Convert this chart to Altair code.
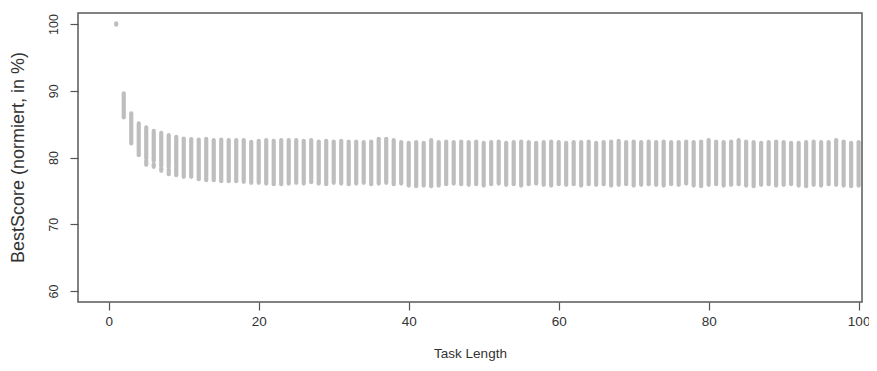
import altair as alt
import pandas as pd

# Task lengths 1..100
task_length = list(range(1, 101))

# Upper end of each bar (BestScore, normalised, %)
bar_top = [
    100.1, 89.6, 86.6, 85.1, 84.5, 84.0, 83.7, 83.35, 83.1, 82.85,
    82.75, 82.7, 82.8, 82.6, 82.7, 82.6, 82.6, 82.6, 82.35, 82.5,
    82.6, 82.5, 82.6, 82.6, 82.6, 82.5, 82.6, 82.4, 82.5, 82.4,
    82.5, 82.4, 82.4, 82.3, 82.4, 82.8, 82.8, 82.6, 82.3, 82.2,
    82.3, 82.2, 82.6, 82.3, 82.4, 82.3, 82.4, 82.3, 82.4, 82.2,
    82.3, 82.4, 82.2, 82.3, 82.4, 82.3, 82.2, 82.3, 82.4, 82.3,
    82.2, 82.3, 82.3, 82.4, 82.2, 82.3, 82.4, 82.5, 82.3, 82.4,
    82.3, 82.4, 82.3, 82.4, 82.3, 82.3, 82.4, 82.3, 82.4, 82.6,
    82.4, 82.3, 82.4, 82.6, 82.4, 82.3, 82.2, 82.3, 82.4, 82.3,
    82.2, 82.2, 82.3, 82.4, 82.3, 82.3, 82.6, 82.4, 82.2, 82.3,
]

# Lower end of each bar
bar_bottom = [
    99.9, 86.0, 82.1, 80.35, 78.9, 78.6, 78.0, 77.5, 77.35, 77.1,
    77.1, 76.75, 76.6, 76.6, 76.45, 76.45, 76.45, 76.35, 76.2, 76.2,
    76.1, 76.0, 76.0, 76.1, 76.2, 76.1, 76.3, 76.1, 76.0, 76.2,
    76.1, 76.0, 76.1, 76.2, 76.0, 76.1, 76.2, 76.0, 76.1, 75.8,
    75.7, 75.8, 75.7, 75.8, 76.0, 76.1, 76.0, 75.9, 76.0, 75.8,
    76.0, 76.1, 75.9, 76.0, 75.8, 76.0, 76.1, 75.9, 75.8, 76.0,
    75.9, 76.0, 75.8, 76.0, 75.9, 76.0, 75.8, 75.9, 76.0, 75.8,
    75.9, 76.0, 75.9, 75.8, 76.0, 75.9, 76.1, 75.8, 75.7, 75.9,
    76.0, 75.8, 75.9, 76.0, 75.8, 75.7, 75.9, 76.0, 75.8, 75.9,
    76.0, 75.8, 75.7, 75.9, 75.8, 76.0, 75.9, 75.8, 75.7, 75.8,
]

# Visible gaps near the lower end of a few early bars
gap_task = [5, 6, 7, 8]
gap_low = [79.5, 79.0, 78.4, 78.2]
gap_high = [79.9, 79.5, 78.8, 78.6]

rows = []
gaps = {t: (lo, hi) for t, lo, hi in zip(gap_task, gap_low, gap_high)}
for t, top, bot in zip(task_length, bar_top, bar_bottom):
    if t in gaps:
        lo, hi = gaps[t]
        rows.append({"task": t, "lo": hi, "hi": top})
        rows.append({"task": t, "lo": bot, "hi": lo})
    else:
        rows.append({"task": t, "lo": bot, "hi": top})
df = pd.DataFrame(rows)

FONT = "Liberation Sans"
TXT = "#333333"
AX = "#555555"

x_axis = alt.Axis(
    values=[0, 20, 40, 60, 80, 100], title="Task Length", grid=False, domain=False,
    tickColor=AX, tickSize=8, tickWidth=1.2, labelFont=FONT, labelFontSize=13.5,
    labelColor=TXT, labelPadding=4, titleFont=FONT, titleFontSize=13.5,
    titleFontWeight="normal", titleColor=TXT, titleY=55, titleBaseline="alphabetic",
)
y_axis = alt.Axis(
    values=[60, 70, 80, 90, 100], title="BestScore (normiert, in %)", grid=False,
    domain=False, tickColor=AX, tickSize=8, tickWidth=1.2, labelFont=FONT,
    labelFontSize=12.5, labelColor=TXT, labelAngle=-90, labelAlign="center",
    labelBaseline="bottom", labelPadding=10, titleFont=FONT, titleFontSize=18,
    titleFontWeight="normal", titleColor=TXT, titleAngle=-90, titleX=-60,
    titleY=144, titleBaseline="middle", titleAlign="center",
)

chart = (
    alt.Chart(df)
    .mark_rule(color="#bebebe", strokeWidth=4.2, strokeCap="round")
    .encode(
        x=alt.X("task:Q", scale=alt.Scale(domain=[-4.1, 100.45], nice=False, zero=False), axis=x_axis),
        y=alt.Y("lo:Q", scale=alt.Scale(domain=[58.35, 101.65], nice=False, zero=False), axis=y_axis),
        y2="hi:Q",
    )
    .properties(
        width=784, height=289,
        background="white",
        autosize=alt.AutoSizeParams(type="none"),
        padding={"left": 70, "top": 5, "right": 7, "bottom": 61},
    )
    .configure_view(stroke="#5a5a5a", strokeWidth=1.5)
)

chart.save("out.html", embed_options={"renderer": "svg", "actions": False})
